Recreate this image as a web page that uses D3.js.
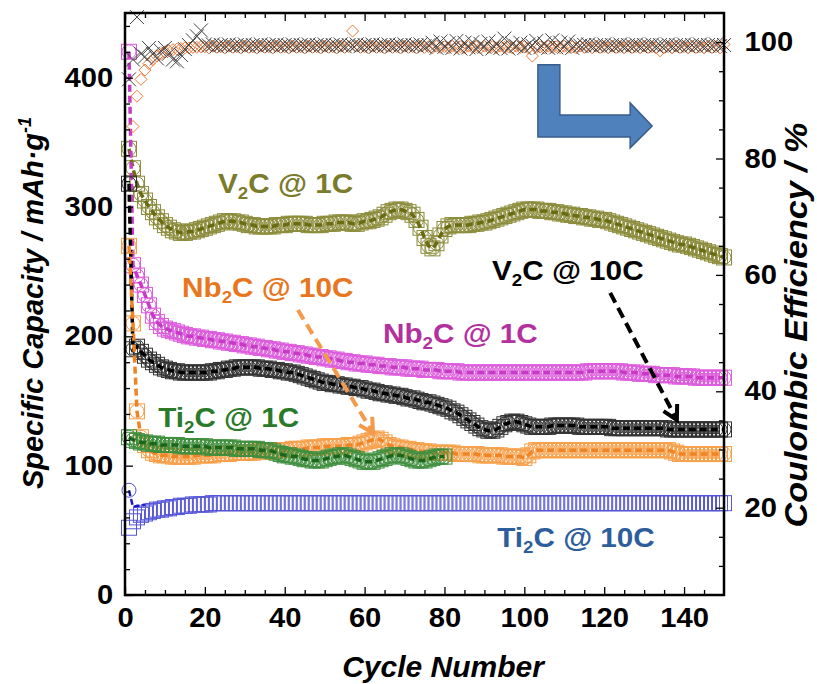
<!DOCTYPE html>
<html><head><meta charset="utf-8">
<script src="https://cdn.jsdelivr.net/npm/d3@7"></script>
<style>body{margin:0;background:#fff}svg{display:block}</style>
</head><body><svg id="c" width="817" height="684"></svg>
<script>
// ---------- DATA ----------
const cycles = d3.range(1, 151);
const xTicks = [0,20,40,60,80,100,120,140];
const yLeftTicks = [0,100,200,300,400];
const yRightTicks = [20,40,60,80,100];

const V2C_1C = [345,330,318,310,305,300,296,292,289,286,
 284,282,281,280,280,281,281,282,283,284,
 285,286,287,288,289,289,289,288,288,287,
 286,286,285,285,285,285,285,286,286,286,
 287,287,287,287,287,286,286,286,286,287,
 287,287,288,288,288,288,287,287,288,289,
 289,290,291,292,294,296,297,298,298,297,
 296,294,290,284,276,270,268,272,278,283,
 285,286,286,286,286,286,287,287,288,288,
 289,290,291,292,293,294,295,296,297,298,
 298,298,298,297,297,297,296,296,295,295,
 294,294,293,293,292,292,291,291,290,290,
 289,288,287,286,285,284,283,282,281,280,
 279,278,277,276,275,274,273,272,271,271,
 270,269,268,267,266,265,264,263,262,261];

const Nb2C_1C = [420,255,247,240,232,224,216,211,208,206,
 205,204,203,202,201,200,200,199,199,198,
 198,197,197,196,196,195,195,194,194,193,
 193,192,192,191,191,190,190,189,189,188,
 188,187,187,186,186,185,185,184,184,183,
 183,182,182,181,181,180,180,179,179,179,
 178,178,178,177,177,177,176,176,176,176,
 175,175,175,175,174,174,174,174,173,173,
 173,173,173,172,172,172,172,172,172,172,
 172,172,172,172,172,172,172,172,172,172,
 172,172,172,172,172,172,172,172,172,172,
 172,172,172,172,172,173,173,173,173,173,
 173,173,173,173,172,172,172,172,171,171,
 171,171,170,170,170,170,170,169,169,169,
 169,169,168,168,168,168,168,168,168,168];

const V2C_10C = [318,190,192,188,185,182,180,178,176,175,
 174,173,173,172,172,172,172,172,172,172,
 172,173,173,174,174,175,175,176,176,176,
 176,176,176,175,175,175,174,174,173,173,
 172,172,171,170,169,168,167,166,165,164,
 164,163,163,162,162,161,161,160,160,159,
 158,158,157,156,156,155,155,154,154,153,
 152,152,151,150,149,149,148,147,146,145,
 144,142,141,139,137,135,133,131,129,128,
 127,127,128,130,132,133,134,134,133,132,
 131,130,130,130,130,130,131,131,131,131,
 131,131,131,130,130,130,130,130,130,130,
 130,129,129,129,129,129,129,129,129,129,
 129,129,129,129,129,128,128,128,128,128,
 128,128,128,128,128,128,128,128,128,128];

const Ti2C_1C = [122,120,119,118,118,117,117,117,116,116,
 116,116,116,115,115,115,115,115,115,115,
 114,114,114,114,114,114,114,113,113,113,
 113,113,113,112,112,112,111,110,109,108,
 108,107,107,106,105,105,104,104,104,105,
 106,107,107,108,108,107,106,105,104,103,
 103,103,104,105,106,107,108,108,108,107,
 106,105,104,104,104,105,106,107,107,107];

const Nb2C_10C = [270,210,142,122,116,112,110,109,108,108,
 108,107,107,107,107,107,107,108,108,108,
 108,108,109,109,109,109,110,110,110,110,
 110,110,111,111,111,111,111,112,112,112,
 112,113,113,113,113,114,114,114,114,115,
 115,115,115,115,115,116,116,116,117,118,
 119,120,121,120,118,116,115,114,114,113,
 113,112,112,111,111,111,110,110,110,110,
 110,110,109,109,109,109,109,109,108,108,
 108,108,108,108,107,107,107,107,107,106,
 108,111,112,112,112,112,112,112,112,112,
 112,112,112,112,112,112,112,112,112,112,
 112,112,112,112,112,112,112,112,112,112,
 112,112,112,112,112,112,111,110,109,109,
 109,109,109,109,109,109,109,109,109,109];

const Ti2C_10C = [52,57,60,62,63,64,65,66,66,67,
 67,68,68,69,69,69,70,70,70,70,
 70,71,71,71,71,71,71,71,71,71,
 71,71,71,71,71,71,71,71,71,71,
 71,71,71,71,71,71,71,71,71,71,
 71,71,71,71,71,71,71,71,71,71,
 71,71,71,71,71,71,71,71,71,71,
 71,71,71,71,71,71,71,71,71,71,
 71,71,71,71,71,71,71,71,71,71,
 71,71,71,71,71,71,71,71,71,71,
 71,71,71,71,71,71,71,71,71,71,
 71,71,71,71,71,71,71,71,71,71,
 71,71,71,71,71,71,71,71,71,71,
 71,71,71,71,71,71,71,71,71,71,
 71,71,71,71,71,71,71,71,71,71];

// first-cycle circle value
const firstCircle = {V2C_1C: 345, Nb2C_1C: 420, V2C_10C: 318, Ti2C_1C: 122, Nb2C_10C: 270, Ti2C_10C: 81};
// early-cycle line points for Ti2C @ 10C (circles)
const Ti2C_10C_early = [81, 68, 69, 69, 70];

const CE_X = [93.6,97.0,104.3,98.0,97.5,99.0,98.0,97.2,98.5,99.0,
 98.0,97.0,96.7,97.8,98.8,99.5,100.3,101.0,102.0,99.6,
 99.4,99.6,99.3,99.5,99.4,99.6,99.3,99.5,99.4,99.6,
 99.3,99.5,99.4,99.6,99.3,99.5,99.4,99.6,99.3,99.5,
 99.4,99.6,99.3,99.5,99.4,99.6,99.3,99.5,99.4,99.6,
 99.3,99.5,99.4,99.6,99.3,99.5,99.4,99.6,99.3,99.5,
 99.4,99.6,99.3,99.5,99.4,99.6,99.3,99.5,99.4,99.6,
 99.3,99.5,99.4,99.6,99.3,99.5,99.9,99.0,100.1,99.2,
 99.8,99.0,100.2,98.9,99.9,99.1,100.0,98.8,99.7,99.2,
 100.1,98.9,99.8,99.0,100.6,98.9,99.7,99.3,99.9,99.0,
 99.6,99.4,100.2,99.1,99.8,99.0,100.3,99.1,99.9,99.2,
 100.1,99.0,99.6,99.4,99.5,99.6,99.3,99.5,99.4,99.6,
 99.3,99.5,99.4,99.6,99.3,99.5,99.4,99.6,99.3,99.5,
 99.4,99.6,99.3,99.5,99.4,99.6,99.3,99.5,99.4,99.6,
 99.3,99.5,99.4,99.6,99.3,99.5,99.4,99.6,99.3,99.5];

const CE_D = [null,85.5,90.7,93.6,95.2,96.3,97.0,97.6,98.0,98.3,
 98.5,98.7,98.8,98.9,99.0,99.0,99.1,99.1,99.2,99.2,
 99.0,99.3,99.1,99.2,99.0,99.3,99.1,99.2,99.0,99.3,
 99.1,99.2,99.0,99.3,99.1,99.2,99.0,99.3,99.1,99.2,
 99.0,99.3,99.1,99.2,99.0,99.3,99.1,99.2,99.0,99.3,
 99.1,99.2,99.0,99.3,99.1,99.2,101.9,99.3,99.1,99.2,
 99.0,99.3,99.1,99.2,99.0,99.3,99.1,99.2,99.0,99.3,
 99.1,99.2,99.0,99.3,99.1,99.2,99.0,99.3,99.1,99.2,
 99.0,99.3,99.1,99.2,99.0,99.3,99.1,99.2,99.0,99.3,
 99.1,99.2,99.0,99.3,99.1,99.2,99.0,99.3,99.1,99.2,
 99.0,97.6,99.1,99.2,99.0,99.3,99.1,99.2,99.0,99.3,
 99.1,99.2,99.0,99.3,99.1,99.2,99.0,99.3,99.1,99.2,
 99.0,99.3,99.1,99.2,99.0,99.3,99.1,99.2,99.0,99.3,
 99.1,99.2,99.0,98.5,99.1,99.2,99.0,99.3,99.1,99.2,
 99.0,99.3,99.1,99.2,99.0,99.3,99.1,99.2,99.0,99.6];

// series labels (name, sub, rest), anchor in data units [cycle, capacity]
const labelText = [
  ["V","2","C @ 1C"], ["Nb","2","C @ 10C"], ["Nb","2","C @ 1C"],
  ["V","2","C @ 10C"], ["Ti","2","C @ 1C"], ["Ti","2","C @ 10C"]];
const labelPos = [[23.3,311],[14.3,230.5],[64.6,195],[91.9,243.6],[8.3,130],[93.2,37]];
const labelColor = ["#7b7b2c","#e8761e","#b3309f","#000000","#2a7a2a","#2d5e9b"];

// annotation arrows in data units
const orangeArrow = [[43.3,220.4],[62.1,125.3]];
const blackArrow = [[121.5,233.6],[138.2,135.3]];
const blueArrow = [[103.4,409.9],[108.9,409.9],[108.9,371.2],[126.5,371.2],[126.5,380.5],[132.0,362.7],[126.5,345.7],[126.5,354.2],[103.4,354.2]];

// ---------- CHART ----------
const svg = d3.select("#c");
const FONT = "'Liberation Sans', Arial, sans-serif";
const x = d3.scaleLinear([0,150],[125,724]);
const yL = d3.scaleLinear([0,450],[595,13]);
const yR = d3.scaleLinear([5,105],[595,13]);

const series = [
  {name:"V2C_1C", data:V2C_1C, mk:"#8c8c3c", ln:"#6b6b12", circ:true},
  {name:"Nb2C_1C", data:Nb2C_1C, mk:"#dd5cdd", ln:"#c63ac6", circ:true},
  {name:"V2C_10C", data:V2C_10C, mk:"#333333", ln:"#000000", circ:true},
  {name:"Nb2C_10C", data:Nb2C_10C, mk:"#f7a04a", ln:"#f08424", circ:true},
  {name:"Ti2C_1C", data:Ti2C_1C, mk:"#3f8f3f", ln:"#1c661c", circ:true},
  {name:"Ti2C_10C", data:Ti2C_10C, mk:"#5555d8", ln:"#1a1ac0", circ:false}
];

const plot = svg.append("g");
series.forEach(s => {
  const pts = s.data.map((v,i)=>({c:cycles[i], v}));
  const g = plot.append("g");
  g.selectAll("rect").data(pts).join("rect")
    .attr("x", d=>x(d.c)-7.5).attr("y", d=>yL(d.v)-7.5)
    .attr("width",15).attr("height",15)
    .attr("fill","none").attr("stroke",s.mk).attr("stroke-width",1);
  if (s.circ) {
    const cpts = pts.map((p,i)=> i===0 ? {c:p.c, v:firstCircle[s.name]} : p);
    g.selectAll("circle").data(cpts).join("circle")
      .attr("cx", d=>x(d.c)).attr("cy", d=>yL(d.v)).attr("r",7)
      .attr("fill","none").attr("stroke",s.mk).attr("stroke-width",1);
    g.append("path").datum(cpts)
      .attr("d", d3.line().x(d=>x(d.c)).y(d=>yL(d.v)))
      .attr("fill","none").attr("stroke",s.ln).attr("stroke-width",3.5)
      .attr("stroke-dasharray","7,4");
  } else {
    const epts = Ti2C_10C_early.map((v,i)=>({c:cycles[i], v}));
    g.append("circle").attr("cx",x(epts[0].c)).attr("cy",yL(epts[0].v)).attr("r",7)
      .attr("fill","none").attr("stroke",s.mk).attr("stroke-width",1);
    g.append("path").datum(epts)
      .attr("d", d3.line().x(d=>x(d.c)).y(d=>yL(d.v)))
      .attr("fill","none").attr("stroke",s.ln).attr("stroke-width",2.5)
      .attr("stroke-dasharray","6,3");
  }
});

// Coulombic efficiency
const ceg = plot.append("g");
ceg.selectAll("path.d").data(CE_D.map((v,i)=>({c:cycles[i],v})).filter(d=>d.v!==null))
  .join("path").attr("class","d")
  .attr("transform", d=>`translate(${x(d.c)},${yR(d.v)})`)
  .attr("d","M0,-6L6,0L0,6L-6,0Z").attr("fill","none")
  .attr("stroke","#f07a3a").attr("stroke-width",1);
ceg.selectAll("path.x").data(CE_X.map((v,i)=>({c:cycles[i],v})))
  .join("path").attr("class","x")
  .attr("transform", d=>`translate(${x(d.c)},${yR(d.v)})`)
  .attr("d","M-7,-7L7,7M-7,7L7,-7").attr("fill","none")
  .attr("stroke","#444").attr("stroke-width",1);

// Blue L arrow
plot.append("path").datum(blueArrow)
  .attr("d", d3.line().x(d=>x(d[0])).y(d=>yL(d[1])).curve(d3.curveLinearClosed))
  .attr("fill","#4f81bd").attr("stroke","#385d8a").attr("stroke-width",1.5);

// dashed arrows
function dashArrow(p, color){
  const x1=x(p[0][0]), y1=yL(p[0][1]), x2=x(p[1][0]), y2=yL(p[1][1]);
  const a=Math.atan2(y2-y1,x2-x1), L=16, w=0.5;
  plot.append("line").attr("x1",x1).attr("y1",y1).attr("x2",x2).attr("y2",y2)
    .attr("stroke",color).attr("stroke-width",4).attr("stroke-dasharray","11,6");
  plot.append("path")
    .attr("d",`M${x2-L*Math.cos(a-w)},${y2-L*Math.sin(a-w)}L${x2},${y2}L${x2-L*Math.cos(a+w)},${y2-L*Math.sin(a+w)}`)
    .attr("fill","none").attr("stroke",color).attr("stroke-width",4).attr("stroke-linejoin","miter");
}
dashArrow(orangeArrow,"#f39a4c");
dashArrow(blackArrow,"#000");

// series labels
const SX = 1.1;
labelText.forEach((t,i)=>{
  const tx = svg.append("text")
    .attr("transform",`translate(${x(labelPos[i][0])},${yL(labelPos[i][1])}) scale(${SX},1)`)
    .attr("font-family",FONT).attr("font-weight","bold").attr("font-size",27)
    .attr("fill",labelColor[i]);
  tx.append("tspan").text(t[0]);
  tx.append("tspan").text(t[1]).attr("font-size",17).attr("dy",6);
  tx.append("tspan").text(t[2]).attr("dy",-6);
});

// axes
const TSX = 1.08;
function styleAxis(g){
  g.select(".domain").remove();
  g.selectAll("line").attr("stroke","#000").attr("stroke-width",1.3);
  g.selectAll("text").attr("font-family",FONT).attr("font-weight","bold")
    .attr("font-size",27).attr("fill","#000")
    .attr("transform",`scale(${TSX},1)`);
}
const minorX = d3.range(5,150,5).filter(v=>v%20!==0);
svg.append("g").attr("transform","translate(0,595)")
  .call(d3.axisBottom(x).tickValues(xTicks).tickSizeInner(-8).tickSizeOuter(0).tickPadding(13).tickFormat(d3.format("d")))
  .call(styleAxis);
svg.append("g").attr("transform","translate(0,595)")
  .call(d3.axisBottom(x).tickValues(minorX).tickSizeInner(-5).tickSizeOuter(0).tickFormat(""))
  .call(styleAxis);
svg.append("g").attr("transform","translate(0,13)")
  .call(d3.axisTop(x).tickValues(xTicks).tickSizeInner(-8).tickSizeOuter(0).tickFormat(""))
  .call(styleAxis);
svg.append("g").attr("transform","translate(0,13)")
  .call(d3.axisTop(x).tickValues(minorX).tickSizeInner(-5).tickSizeOuter(0).tickFormat(""))
  .call(styleAxis);
const minorYL = d3.range(20,450,20).filter(v=>v%100!==0);
svg.append("g").attr("transform","translate(125,0)")
  .call(d3.axisLeft(yL).tickValues(yLeftTicks).tickSizeInner(-8).tickSizeOuter(0).tickPadding(11))
  .call(styleAxis);
svg.append("g").attr("transform","translate(125,0)")
  .call(d3.axisLeft(yL).tickValues(minorYL).tickSizeInner(-5).tickSizeOuter(0).tickFormat(""))
  .call(styleAxis);
const minorYR = d3.range(10,105,5).filter(v=>v%20!==0);
svg.append("g").attr("transform","translate(724,0)")
  .call(d3.axisRight(yR).tickValues(yRightTicks).tickSizeInner(-8).tickSizeOuter(0).tickPadding(19))
  .call(styleAxis);
svg.append("g").attr("transform","translate(724,0)")
  .call(d3.axisRight(yR).tickValues(minorYR).tickSizeInner(-5).tickSizeOuter(0).tickFormat(""))
  .call(styleAxis);

// frame
svg.append("rect").attr("x",x(0)).attr("y",yL(450)).attr("width",x(150)-x(0)).attr("height",yL(0)-yL(450))
  .attr("fill","none").attr("stroke","#000").attr("stroke-width",2.5);

// axis titles
svg.append("text").attr("x",443).attr("y",677).attr("text-anchor","middle")
  .attr("font-family",FONT).attr("font-weight","bold").attr("font-style","italic").attr("font-size",30)
  .text("Cycle Number");
const lt = svg.append("text").attr("transform","translate(43,303) rotate(-90)").attr("text-anchor","middle")
  .attr("font-family",FONT).attr("font-weight","bold").attr("font-style","italic").attr("font-size",29);
lt.append("tspan").text("Specific Capacity / mAh·g");
lt.append("tspan").text("-1").attr("font-size",18).attr("dy",-12);
svg.append("text").attr("transform","translate(807,325) rotate(-90) scale(1.1,1)").attr("text-anchor","middle")
  .attr("font-family",FONT).attr("font-weight","bold").attr("font-style","italic").attr("font-size",31)
  .text("Coulombic Efficiency / %");
</script></body></html>
